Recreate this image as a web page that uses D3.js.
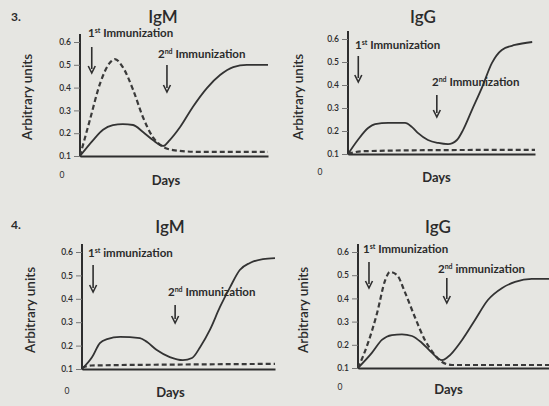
<!DOCTYPE html>
<html>
<head>
<meta charset="utf-8">
<script src="https://cdn.jsdelivr.net/npm/d3@7"></script>
<style>
  html, body { margin: 0; padding: 0; background: #e6e6e2; }
  svg { display: block; }
  text { font-family: Lato, "Open Sans", sans-serif; fill: #2b2b2b; }
</style>
</head>
<body>
<svg id="chart" width="549" height="406"></svg>
<script>
// ---- data (days, arbitrary units) ----
const yTicks = [0.1, 0.2, 0.3, 0.4, 0.5, 0.6];
const yTickLabels = ["0.1", "0.2", "0.3", "0.4", "0.5", "0.6"];

// Option 3, IgM
const p3IgM_solidDays = [0, 2.8, 4.9, 7, 9.1, 11.3, 13.4, 15.5, 17.7, 19.1, 21.3, 24, 27, 29.8, 32.6, 35.5, 40];
const p3IgM_solidVals = [0.10, 0.17, 0.215, 0.235, 0.24, 0.236, 0.205, 0.17, 0.144, 0.17, 0.227, 0.315, 0.398, 0.455, 0.49, 0.50, 0.50];
const p3IgM_dashDays = [0, 2.1, 4.3, 6.4, 7.4, 9.1, 11.3, 13.4, 15.5, 17.7, 19.8, 25.5, 40];
const p3IgM_dashVals = [0.10, 0.258, 0.42, 0.51, 0.525, 0.49, 0.39, 0.27, 0.183, 0.14, 0.126, 0.118, 0.118];

// Option 3, IgG
const p3IgG_solidDays = [0, 2.1, 4.3, 5.8, 8.6, 12.2, 13.7, 15, 17.1, 19.3, 21.4, 23.3, 24.6, 26.5, 28.7, 30.8, 32.9, 35.7, 39.4];
const p3IgG_solidVals = [0.10, 0.161, 0.213, 0.23, 0.235, 0.235, 0.217, 0.191, 0.161, 0.148, 0.143, 0.161, 0.204, 0.291, 0.391, 0.496, 0.552, 0.574, 0.587];
const p3IgG_dashDays = [0, 3, 20, 40];
const p3IgG_dashVals = [0.10, 0.112, 0.117, 0.118];

// Option 4, IgM
const p4IgM_solidDays = [0, 2.1, 3.7, 5.2, 7.9, 12, 13.5, 15.5, 18.2, 20.9, 22.8, 24.5, 26.5, 28.6, 30.7, 32.7, 34.8, 37.5, 40];
const p4IgM_solidVals = [0.10, 0.151, 0.211, 0.228, 0.237, 0.232, 0.215, 0.181, 0.151, 0.138, 0.147, 0.194, 0.267, 0.365, 0.45, 0.523, 0.553, 0.57, 0.574];
const p4IgM_dashDays = [0, 2, 20, 40];
const p4IgM_dashVals = [0.105, 0.115, 0.119, 0.122];

// Option 4, IgG
const p4IgG_solidDays = [0, 2.9, 5, 7.1, 9.2, 11.3, 13.4, 15.5, 17.6, 18.8, 21.8, 24.5, 27.2, 30.2, 32.9, 36.4, 40];
const p4IgG_solidVals = [0.10, 0.165, 0.221, 0.242, 0.245, 0.238, 0.208, 0.165, 0.134, 0.147, 0.221, 0.307, 0.393, 0.445, 0.471, 0.484, 0.484];
const p4IgG_dashDays = [0, 2.1, 4, 5.7, 6.7, 8.2, 9.8, 11.9, 14, 16.1, 17.6, 19.7, 40];
const p4IgG_dashVals = [0.10, 0.208, 0.337, 0.479, 0.514, 0.50, 0.428, 0.32, 0.221, 0.156, 0.126, 0.113, 0.113];

const panelNumbers = ["3.", "4."];
const panelTitles = ["IgM", "IgG", "IgM", "IgG"];
const firstLabels = ["Immunization", "Immunization", "immunization", "Immunization"];
const secondLabels = ["Immunization", "Immunization", "Immunization", "immunization"];
const firstDay = [2.5, 2.2, 2.3, 2.3];
const secondDay = [18.5, 19, 19.3, 18.6];
const xLabel = "Days";
const yLabel = "Arbitrary units";

// ---- layout ----
const layout = [
  {x0: 80, x1: 268, yb: 156, yt: 42, titleX: 163, titleY: 23,
   a1: [47, 73], l1: [88, 37], a2: [65, 92], l2: [158, 58], ylabX: 32, ylabY: 97, zeroX: 62, zeroY: 178, daysY: 185},
  {x0: 348, x1: 535, yb: 154, yt: 39, titleX: 423, titleY: 23,
   a1: [56, 82], l1: [355, 49], a2: [95, 117], l2: [432, 86], ylabX: 303, ylabY: 97, zeroX: 320, zeroY: 175, daysY: 182},
  {x0: 82, x1: 275, yb: 369, yt: 252, titleX: 170, titleY: 233,
   a1: [265, 292], l1: [88, 257], a2: [305, 323], l2: [168, 296], ylabX: 35, ylabY: 310, zeroX: 67, zeroY: 394, daysY: 397},
  {x0: 358, x1: 549, yb: 368, yt: 252, titleX: 438, titleY: 233,
   a1: [262, 288], l1: [363, 253], a2: [278, 303], l2: [438, 273], ylabX: 308, ylabY: 310, zeroX: 340, zeroY: 390, daysY: 394}
];

const series = [
  {sd: p3IgM_solidDays, sv: p3IgM_solidVals, dd: p3IgM_dashDays, dv: p3IgM_dashVals},
  {sd: p3IgG_solidDays, sv: p3IgG_solidVals, dd: p3IgG_dashDays, dv: p3IgG_dashVals},
  {sd: p4IgM_solidDays, sv: p4IgM_solidVals, dd: p4IgM_dashDays, dv: p4IgM_dashVals},
  {sd: p4IgG_solidDays, sv: p4IgG_solidVals, dd: p4IgG_dashDays, dv: p4IgG_dashVals}
];

const svg = d3.select("#chart");
const ink = "#2e2e2e";

svg.append("text").attr("x", 11).attr("y", 21).attr("font-size", 12).attr("font-weight", "bold").text(panelNumbers[0]);
svg.append("text").attr("x", 11).attr("y", 229).attr("font-size", 12).attr("font-weight", "bold").text(panelNumbers[1]);

layout.forEach((L, i) => {
  const g = svg.append("g");
  const x = d3.scaleLinear().domain([0, 40]).range([L.x0, L.x1]);
  const y = d3.scaleLinear().domain([0.1, 0.6]).range([L.yb, L.yt]);

  // title
  g.append("text").attr("x", L.titleX).attr("y", L.titleY).attr("text-anchor", "middle")
    .attr("font-size", 17).attr("font-weight", 600).attr("fill", "#333").text(panelTitles[i]);

  // y axis
  const yAxis = d3.axisLeft(y).tickValues(yTicks).tickFormat((d, k) => yTickLabels[k]).tickSize(6).tickPadding(3);
  const ya = g.append("g").attr("transform", `translate(${L.x0},0)`).call(yAxis);
  ya.select(".domain").attr("stroke", ink).attr("stroke-width", 2).attr("d", `M0,${L.yt - 8}V${L.yb + 1}`);
  ya.selectAll(".tick line").attr("stroke", "#777").attr("stroke-width", 1);
  ya.selectAll(".tick text").attr("font-size", 8.5).attr("fill", "#4a4a4a").attr("font-weight", 600).attr("font-family", "Lato, sans-serif");

  // x axis
  const xAxis = d3.axisBottom(x).tickValues([]).tickSizeOuter(0);
  const xa = g.append("g").attr("transform", `translate(0,${L.yb})`).call(xAxis);
  xa.select(".domain").attr("stroke", ink).attr("stroke-width", 2);

  // lines
  const line = d3.line().x(d => x(d[0])).y(d => y(d[1])).curve(d3.curveMonotoneX);
  const s = series[i];
  g.append("path").datum(s.dd.map((d, k) => [d, s.dv[k]])).attr("d", line)
    .attr("fill", "none").attr("stroke", "#3a3a3a").attr("stroke-width", 2.2).attr("stroke-dasharray", "5,3");
  g.append("path").datum(s.sd.map((d, k) => [d, s.sv[k]])).attr("d", line)
    .attr("fill", "none").attr("stroke", "#333").attr("stroke-width", 1.8);

  // arrows
  function arrow(xp, yr) {
    g.append("line").attr("x1", xp).attr("x2", xp).attr("y1", yr[0]).attr("y2", yr[1] - 4)
      .attr("stroke", ink).attr("stroke-width", 1.6);
    g.append("path").attr("d", `M${xp - 3.5},${yr[1] - 7}L${xp},${yr[1]}L${xp + 3.5},${yr[1] - 7}`)
      .attr("fill", "none").attr("stroke", ink).attr("stroke-width", 1.6);
  }
  arrow(x(firstDay[i]), L.a1);
  arrow(x(secondDay[i]), L.a2);

  function label(pos, sup, word) {
    const t = g.append("text").attr("x", pos[0]).attr("y", pos[1]).attr("font-size", 11.5)
      .attr("font-weight", "bold").attr("font-family", "Lato, 'Open Sans', sans-serif");
    t.append("tspan").text(sup[0]);
    t.append("tspan").attr("font-size", 7).attr("dy", -4).text(sup.slice(1));
    t.append("tspan").attr("dy", 4).text(" " + word);
  }
  label(L.l1, "1st", firstLabels[i]);
  label(L.l2, "2nd", secondLabels[i]);

  // axis titles
  g.append("text").attr("transform", `translate(${L.ylabX},${L.ylabY}) rotate(-90)`).attr("text-anchor", "middle")
    .attr("font-size", 13.5).attr("font-weight", 600).attr("fill", "#333").text(yLabel);
  g.append("text").attr("x", (L.x0 + L.x1) / 2 + (i % 2 ? -5 : -8)).attr("y", L.daysY).attr("text-anchor", "middle")
    .attr("font-size", 13).attr("font-weight", "bold").attr("fill", "#333").text(xLabel);
  g.append("text").attr("x", L.zeroX).attr("y", L.zeroY).attr("text-anchor", "middle")
    .attr("font-size", 8.5).attr("fill", "#555").text("0");
});
</script>
</body>
</html>
